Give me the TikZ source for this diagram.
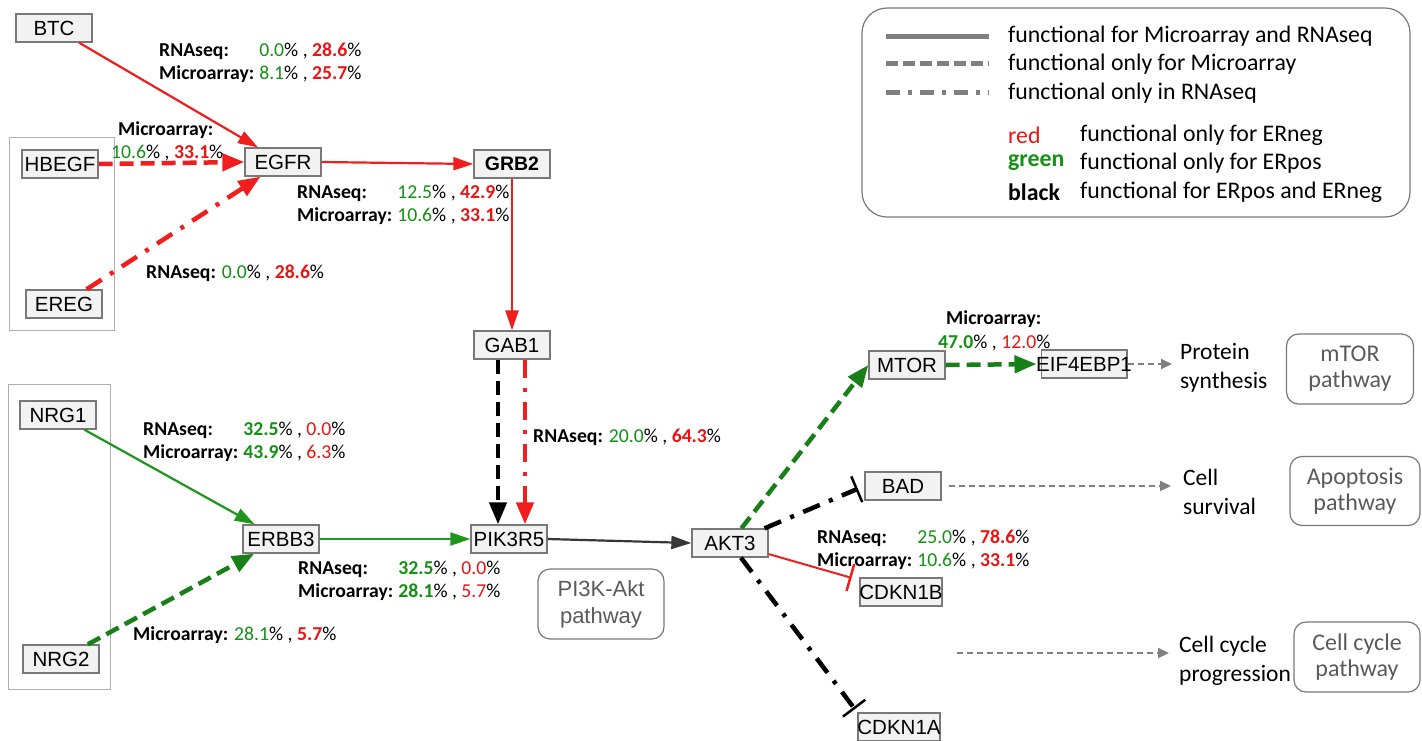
\documentclass[tikz,border=0pt]{standalone}
\usepackage{fontspec}
\setmainfont{Carlito}
\newfontfamily\arialf{Liberation Sans}
\usetikzlibrary{arrows.meta,fit}
\definecolor{myred}{RGB}{240,30,30}
\definecolor{mygreen}{RGB}{30,150,30}
\definecolor{tgreen}{RGB}{20,145,20}
\definecolor{tred}{RGB}{235,20,20}
\definecolor{nodegray}{RGB}{120,120,120}
\definecolor{nodefill}{RGB}{242,242,242}
\definecolor{leggray}{RGB}{128,128,128}
\definecolor{boxgray}{RGB}{175,175,175}
\definecolor{pwgray}{RGB}{90,90,90}
\definecolor{darkline}{RGB}{55,55,55}
\newcommand\gn[1]{\textcolor{tgreen}{#1}}
\newcommand\gb[1]{\textcolor{tgreen}{\bfseries #1}}
\newcommand\rn[1]{\textcolor{tred}{#1}}
\newcommand\rbf[1]{\textcolor{tred}{\bfseries #1}}
\newcommand\vv[2]{#1\% , #2\%}
\newcommand\twolab[4]{\begin{tabular}{@{}l@{\hspace{5pt}}l@{}}\textbf{RNAseq:} & \vv{#1}{#2}\\ \textbf{Microarray:} & \vv{#3}{#4}\end{tabular}}
\begin{document}
\begin{tikzpicture}[x=1pt,y=-1pt,
  gene/.style={draw=nodegray, fill=nodefill, line width=1.3pt, font=\arialf\fontsize{20.5}{22}\selectfont, minimum width=76pt, minimum height=28pt, inner sep=1pt},
  lab/.style={inner sep=0pt, anchor=north west, font=\fontsize{19.7}{23}\selectfont},
  labw/.style={inner sep=0pt, anchor=west, font=\fontsize{19.7}{23}\selectfont},
  pw/.style={draw=nodegray, rounded corners=12pt, line width=1.2pt, text=pwgray, align=center, font=\fontsize{24}{26}\selectfont, minimum width=126pt, minimum height=70pt, inner sep=0pt},
  grp/.style={draw=boxgray, line width=1.5pt},
  sol/.style={line width=2.2pt},
  dsh/.style={line width=4.5pt, dash pattern=on 14pt off 7pt},
  ddot/.style={line width=4.5pt, dash pattern=on 18pt off 10pt on 4pt off 10pt},
  tip/.style={-{Triangle[length=20pt,width=13pt]}},
  bigtip/.style={-{Triangle[length=22pt,width=17pt]}},
  inh/.style={-{Bar[width=28pt,line width=2.5pt]}},
  gdash/.style={draw=leggray, line width=2pt, dash pattern=on 6pt off 4pt, -{Triangle[length=11pt,width=10pt]}},
  txt/.style={align=left, inner sep=3pt, font=\fontsize{23.5}{29}\selectfont}
]
\useasboundingbox (0,0) rectangle (1422,740);
\fill[white] (0,0) rectangle (1422,740);

% genes
\node[gene] (btc) at (54,28) {BTC};
\node[gene] (hbegf) at (60,164) {HBEGF};
\node[gene] (ereg) at (64,304) {EREG};
\node[gene] (egfr) at (283,162) {EGFR};
\node[gene, font=\arialf\bfseries\fontsize{19.5}{22}\selectfont] (grb2) at (512,164) {GRB2};
\node[gene] (gab1) at (512,345) {GAB1};
\node[gene] (nrg1) at (58,415) {NRG1};
\node[gene] (nrg2) at (61,659) {NRG2};
\node[gene] (erbb3) at (281,539) {ERBB3};
\node[gene] (pik3r5) at (509,539) {PIK3R5};
\node[gene] (akt3) at (730,543) {AKT3};
\node[gene] (mtor) at (907,365) {MTOR};
\node[gene, minimum width=0pt, inner xsep=-5pt] (eif) at (1084,364) {EIF4EBP1};
\node[gene] (bad) at (903,486) {BAD};
\node[gene, minimum width=0pt, inner xsep=-0.5pt] (cdkn1b) at (901,592) {CDKN1B};
\node[gene, minimum width=0pt, inner xsep=-0.5pt] (cdkn1a) at (899,727) {CDKN1A};

% groups
\node[grp, fit=(hbegf)(ereg), inner xsep=12pt, inner ysep=12pt] (g1) {};
\node[grp, fit=(nrg1)(nrg2), inner xsep=11pt, inner ysep=16pt] (g2) {};

% pathway boxes
\node[pw, font=\arialf\fontsize{22}{27}\selectfont] (pi3k) at (601,604) {PI3K-Akt\\pathway};
\node[pw, minimum width=127pt] (mtorpw) at (1350,369) {mTOR\\pathway};
\node[pw, minimum width=130pt, minimum height=69pt] (apop) at (1355,491) {Apoptosis\\pathway};
\node[pw] (ccpw) at (1357,657) {Cell cycle\\pathway};

% outcome texts
\node[txt, anchor=west] (ps) at (1177,368) {Protein\\synthesis};
\node[txt, anchor=west] (cs) at (1180,492) {Cell\\survival};
\node[txt, anchor=west] (ccp) at (1176,661) {Cell cycle\\progression};
\coordinate (cc) at (957,653);

% edges
\draw[myred, sol, tip] (btc) -- (egfr);
\draw[myred, dsh, bigtip] (hbegf.east) -- (egfr.west);
\draw[myred, ddot, bigtip] (ereg) -- (egfr);
\draw[myred, sol, tip] (egfr.east) -- (grb2.west);
\draw[myred, sol, tip] (grb2.south) -- (gab1.north);
\draw[black, dsh, bigtip] ([xshift=-14pt]gab1.south) -- ([xshift=-14pt]gab1.south |- pik3r5.north);
\draw[myred, ddot, bigtip] ([xshift=13pt]gab1.south) -- ([xshift=13pt]gab1.south |- pik3r5.north);
\draw[mygreen, sol, tip] (nrg1) -- (erbb3);
\draw[mygreen!85!black, dsh, bigtip] (nrg2) -- (erbb3);
\draw[mygreen, sol, tip] (erbb3.east) -- (pik3r5.west);
\draw[darkline, sol, tip] (pik3r5.east) -- (akt3.west);
\draw[mygreen!85!black, dsh, bigtip] (akt3) -- (mtor.west);
\draw[mygreen!85!black, dsh, bigtip, shorten >=4pt] (mtor.east) -- (eif.west);
\draw[black, ddot, inh, shorten >=7pt] (akt3) -- (bad.west);
\draw[myred, line width=2pt, inh, shorten >=8pt] (akt3) -- (cdkn1b);
\draw[black, ddot, inh, shorten >=4pt] (akt3) -- (cdkn1a.north west);
\draw[gdash, shorten >=5pt] (eif.east) -- (eif.east -| ps.west);
\draw[gdash, shorten <=7pt, shorten >=9pt] (bad.east) -- (bad.east -| cs.west);
\draw[gdash, shorten >=7pt] (cc) -- (cc -| ccp.west);

% labels
\node[lab] (l1) at (159,40) {\twolab{\gn{0.0}}{\rbf{28.6}}{\gn{8.1}}{\rbf{25.7}}};
\node[labw] (l2a) at (118,130) {\textbf{Microarray:}};
\node[labw] (l2b) at (111,153) {\vv{\gn{10.6}}{\rbf{33.1}}};
\node[lab] (l3) at (297,182) {\twolab{\gn{12.5}}{\rbf{42.9}}{\gn{10.6}}{\rbf{33.1}}};
\node[labw] (l4) at (146,273) {\textbf{RNAseq:} \vv{\gn{0.0}}{\rbf{28.6}}};
\node[lab] (l5) at (143,419) {\twolab{\gb{32.5}}{\rn{0.0}}{\gb{43.9}}{\rn{6.3}}};
\node[labw] (l6) at (133,635) {\textbf{Microarray:} \vv{\gn{28.1}}{\rbf{5.7}}};
\node[lab] (l7) at (298,558) {\twolab{\gb{32.5}}{\rn{0.0}}{\gb{28.1}}{\rn{5.7}}};
\node[labw] (l8) at (533,437) {\textbf{RNAseq:} \vv{\gn{20.0}}{\rbf{64.3}}};
\node[lab] (l9) at (817,527) {\twolab{\gn{25.0}}{\rbf{78.6}}{\gn{10.6}}{\rbf{33.1}}};
\node[labw] (l10a) at (946,319) {\textbf{Microarray:}};
\node[labw] (l10b) at (938,343) {\vv{\gb{47.0}}{\rn{12.0}}};

% legend
\draw[nodegray, line width=1.2pt, rounded corners=25pt] (862,8) rectangle (1410,217);
\coordinate (a1) at (886,36); \coordinate (b1) at (989,36);
\coordinate (a2) at (886,63); \coordinate (b2) at (989,63);
\coordinate (a3) at (886,92); \coordinate (b3) at (989,92);
\draw[leggray, line width=5pt] (a1) -- (b1);
\draw[leggray, line width=5pt, dash pattern=on 12pt off 5pt] (a2) -- (b2);
\draw[leggray, line width=5pt, dash pattern=on 14pt off 8pt on 4pt off 8pt] (a3) -- (b3);
\begin{scope}[every node/.style={anchor=west, inner sep=0pt, font=\fontsize{23.8}{28}\selectfont}]
\node (t1) at (1008,36) {functional for Microarray and RNAseq};
\node (t2) at (1008,64) {functional only for Microarray};
\node (t3) at (1008,93) {functional only in RNAseq};
\node[text=tred] (t4) at (1008,135) {red};
\node[text=tgreen] (t5) at (1008,163) {\bfseries green};
\node (t6) at (1008,192) {\bfseries black};
\node (t7) at (1080,135) {functional only for ERneg};
\node (t8) at (1080,163) {functional only for ERpos};
\node (t9) at (1080,192) {functional for ERpos and ERneg};
\end{scope}
\end{tikzpicture}
\end{document}
